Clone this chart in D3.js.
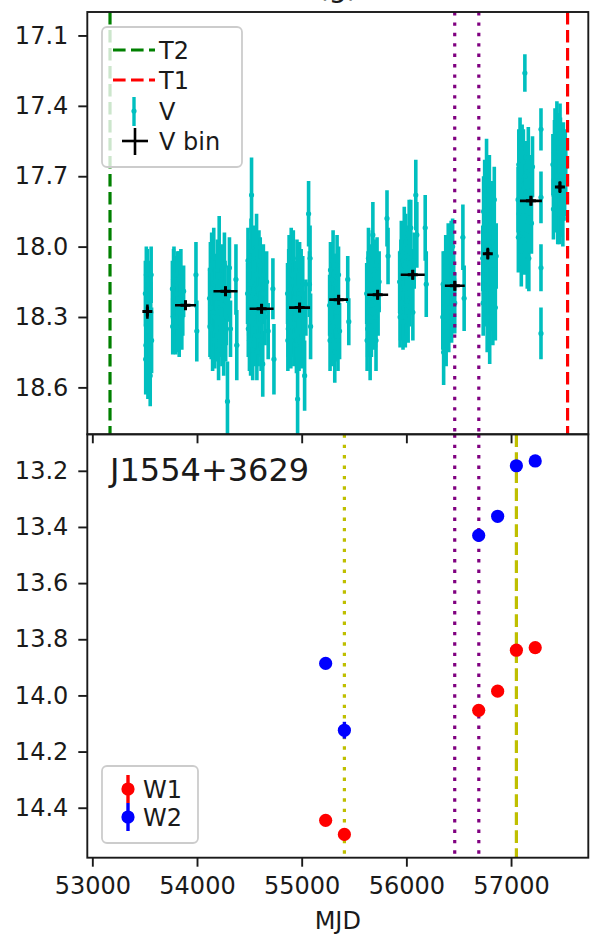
<!DOCTYPE html>
<meta charset="utf-8">
<head>
<script src="https://d3js.org/d3.v7.min.js"></script>
<style>
    body { margin: 0; background: #fff; }
    svg text { font-family: "DejaVu Sans", sans-serif; fill: #1a1a1a; }
</style>
</head>
<body>
<div class="viz"></div>
<script>
// ---- V band photometry, one array per observing season: [MJD, mag, err]
var vSeason1 = [[53507,18.20,0.14],[53510,18.48,0.15],[53512,18.42,0.14],[53516,18.12,0.12],[53520,18.30,0.13],[53526,18.14,0.13],
    [53531,18.50,0.15],[53536,18.25,0.13],[53542,18.36,0.13],[53548,18.18,0.12],[53553,18.55,0.13],[53558,18.28,0.13],
    [53562,18.12,0.12],[53566,18.40,0.14]];
var vSeason2 = [[53765,18.18,0.12],[53768,18.34,0.12],[53772,18.30,0.13],[53776,18.14,0.13],[53780,18.12,0.12],[53784,18.32,0.13],
    [53788,18.25,0.11],[53792,18.16,0.12],[53796,18.34,0.12],[53800,18.24,0.13],[53804,18.20,0.13],[53808,18.32,0.13],
    [53812,18.15,0.13],[53816,18.26,0.12],[53820,18.28,0.12],[53825,18.14,0.12],[53830,18.36,0.11],[53838,18.22,0.12],
    [53846,18.13,0.12],[53855,18.30,0.14],[53864,18.26,0.12],[53872,18.19,0.11],[53990,18.12,0.14],[53998,18.36,0.13]];
var vSeason3 = [[54120,18.22,0.13],[54124,18.34,0.13],[54128,18.10,0.12],[54132,18.26,0.14],[54136,18.35,0.13],[54140,18.08,0.14],
    [54145,18.18,0.14],[54149,18.40,0.13],[54153,18.28,0.12],[54157,18.16,0.13],[54160,18.05,0.13],[54165,18.30,0.13],
    [54170,18.40,0.12],[54175,18.22,0.14],[54180,18.15,0.12],[54185,18.36,0.13],[54190,18.30,0.13],[54195,18.10,0.13],
    [54200,18.22,0.11],[54206,18.44,0.13],[54212,18.00,0.13],[54217,18.26,0.14],[54222,18.33,0.14],[54227,18.14,0.13],
    [54232,18.12,0.13],[54238,18.38,0.13],[54245,18.25,0.12],[54255,18.42,0.13],[54262,18.08,0.14],[54268,18.18,0.12],
    [54274,18.36,0.13],[54280,18.30,0.12],[54291,18.66,0.17],[54300,18.20,0.12],[54310,18.09,0.13],[54320,18.35,0.12],
    [54372,18.14,0.15],[54380,18.42,0.15]];
var vSeason4 = [[54483,18.20,0.13],[54487,18.06,0.14],[54490,18.35,0.12],[54494,18.24,0.14],[54497,18.10,0.13],[54501,18.40,0.13],
    [54504,18.28,0.12],[54508,18.16,0.13],[54512,18.42,0.13],[54516,18.02,0.14],[54521,17.78,0.16],[54524,18.32,0.14],
    [54528,18.15,0.13],[54532,18.44,0.13],[54535,18.30,0.12],[54539,18.20,0.13],[54542,18.05,0.14],[54546,18.26,0.14],
    [54550,18.38,0.13],[54554,18.12,0.13],[54558,18.22,0.12],[54562,18.34,0.13],[54565,18.12,0.12],[54569,18.00,0.14],
    [54572,18.45,0.12],[54576,18.18,0.14],[54580,18.26,0.13],[54584,18.38,0.13],[54588,18.18,0.12],[54592,18.06,0.13],
    [54596,18.33,0.14],[54600,18.24,0.13],[54604,18.08,0.12],[54608,18.30,0.13],[54612,18.40,0.13],[54616,18.14,0.14],
    [54620,18.25,0.12],[54628,18.50,0.14],[54634,18.12,0.13],[54640,18.20,0.13],[54650,18.30,0.12],[54665,18.15,0.13],
    [54680,18.36,0.12],[54725,18.18,0.13],[54735,18.48,0.15]];
var vSeason5 = [[54865,18.20,0.13],[54868,18.40,0.13],[54872,18.35,0.12],[54876,18.14,0.13],[54880,18.08,0.13],[54884,18.30,0.14],
    [54888,18.28,0.12],[54892,18.18,0.13],[54896,18.40,0.12],[54900,18.06,0.14],[54904,18.15,0.13],[54908,18.34,0.13],
    [54912,18.25,0.12],[54916,18.12,0.13],[54920,18.05,0.12],[54925,18.38,0.13],[54930,18.33,0.13],[54935,18.22,0.13],
    [54940,18.18,0.12],[54945,18.30,0.14],[54950,18.42,0.12],[54955,18.10,0.13],[54961,18.65,0.18],[54965,18.26,0.14],
    [54970,18.22,0.13],[54975,18.40,0.13],[54980,18.10,0.12],[54985,18.20,0.13],[54990,18.30,0.12],[54995,18.14,0.13],
    [55000,18.38,0.14],[55005,18.24,0.13],[55010,18.16,0.12],[55018,18.32,0.13],[55028,18.55,0.15],[55040,18.26,0.12],
    [55066,17.86,0.14],[55074,18.16,0.14],[55080,18.05,0.14],[55085,18.34,0.14]];
var vSeason6 = [[55267,18.25,0.13],[55271,18.40,0.13],[55275,18.10,0.12],[55279,18.30,0.14],[55283,18.38,0.13],[55287,18.14,0.13],
    [55291,18.20,0.12],[55295,18.34,0.13],[55300,18.06,0.13],[55304,18.24,0.14],[55308,18.32,0.12],[55312,18.16,0.13],
    [55316,18.45,0.13],[55320,18.26,0.13],[55325,18.15,0.12],[55329,18.36,0.13],[55333,18.28,0.12],[55338,18.08,0.13],
    [55342,18.22,0.13],[55347,18.40,0.13],[55352,18.12,0.12],[55362,18.36,0.12],[55440,18.14,0.10],[55450,18.32,0.10]];
var vSeason7 = [[55621,18.20,0.13],[55625,18.40,0.13],[55630,18.35,0.12],[55634,18.16,0.14],[55638,18.05,0.13],[55642,18.30,0.13],
    [55646,18.28,0.12],[55650,18.12,0.13],[55654,18.44,0.13],[55658,18.22,0.13],[55662,18.14,0.12],[55666,18.34,0.13],
    [55670,18.25,0.12],[55675,18.06,0.13],[55680,17.95,0.14],[55685,18.20,0.13],[55690,18.32,0.12],[55695,18.10,0.13],
    [55700,18.18,0.12],[55705,18.30,0.13],[55710,18.40,0.13],[55720,18.08,0.12],[55730,18.26,0.12],[55740,18.15,0.13],
    [55815,17.88,0.12],[55825,18.04,0.12]];
var vSeason8 = [[55936,18.15,0.13],[55940,18.30,0.13],[55944,18.28,0.12],[55948,18.10,0.13],[55952,18.02,0.13],[55956,18.24,0.13],
    [55960,18.20,0.12],[55964,18.06,0.14],[55968,18.32,0.12],[55972,18.18,0.13],[55976,18.08,0.13],[55980,17.96,0.13],
    [55985,18.18,0.12],[55990,18.30,0.13],[55994,17.98,0.12],[55998,18.12,0.13],[56003,18.25,0.13],[56008,18.04,0.13],
    [56012,18.12,0.12],[56017,18.28,0.13],[56022,18.05,0.13],[56027,17.94,0.14],[56032,18.22,0.12],[56037,18.10,0.13],
    [56042,17.92,0.12],[56052,18.14,0.13],[56062,18.28,0.12],[56075,18.06,0.12],[56090,17.78,0.15],[56100,17.95,0.14],
    [56180,17.92,0.14],[56190,18.16,0.14]];
var vSeason9 = [[56348,18.30,0.14],[56352,18.16,0.14],[56356,18.45,0.14],[56360,18.26,0.13],[56364,18.15,0.13],[56368,18.36,0.13],
    [56372,18.25,0.12],[56376,18.08,0.13],[56380,18.38,0.13],[56384,18.20,0.13],[56388,18.10,0.12],[56392,18.30,0.13],
    [56396,18.20,0.12],[56400,18.04,0.14],[56405,18.32,0.13],[56410,18.14,0.13],[56414,18.05,0.12],[56419,18.26,0.13],
    [56423,18.18,0.12],[56428,18.02,0.13],[56432,18.28,0.13],[56442,18.00,0.12],[56452,18.14,0.12],[56462,18.24,0.13],
    [56540,17.96,0.14],[56552,18.22,0.14]];
var vSeason10 = [[56730,18.05,0.14],[56734,18.24,0.14],[56738,17.85,0.15],[56741,18.00,0.14],[56745,18.20,0.14],[56748,17.78,0.15],
    [56752,17.95,0.13],[56756,18.14,0.14],[56760,18.10,0.14],[56763,17.90,0.14],[56766,17.70,0.16],[56769,18.04,0.14],
    [56772,18.30,0.15],[56775,17.84,0.14],[56778,18.00,0.13],[56781,18.18,0.14],[56784,17.88,0.14],[56787,17.98,0.14],
    [56790,18.15,0.13],[56793,17.76,0.15],[56796,18.35,0.15],[56799,18.08,0.14],[56802,17.92,0.14],[56805,18.20,0.14],
    [56808,18.06,0.13],[56812,17.86,0.14],[56815,18.22,0.14],[56818,18.02,0.14],[56822,17.98,0.14],[56826,18.28,0.14],
    [56830,18.12,0.13],[56835,17.94,0.14],[56840,17.80,0.14],[56845,18.10,0.14],[56850,18.26,0.14],[56858,18.04,0.14]];
var vSeason11 = [[57067,17.80,0.14],[57070,17.96,0.15],[57074,17.65,0.15],[57078,17.86,0.14],[57082,17.92,0.14],[57086,17.58,0.13],
    [57090,17.72,0.13],[57094,17.88,0.14],[57098,18.02,0.15],[57102,17.78,0.14],[57106,17.60,0.12],[57110,17.94,0.14],
    [57114,17.85,0.13],[57118,17.64,0.14],[57122,17.75,0.14],[57126,17.98,0.14],[57132,17.26,0.08],[57137,17.70,0.14],
    [57142,17.95,0.14],[57146,17.80,0.14],[57150,17.68,0.13],[57155,18.04,0.14],[57160,17.82,0.14],[57165,17.62,0.13],
    [57170,18.05,0.14],[57175,17.88,0.14],[57180,17.74,0.13],[57195,17.90,0.13],[57205,17.66,0.13],
    [57286,17.50,0.09],[57286,17.79,0.11],[57286,18.09,0.10],[57286,18.37,0.11]];
var vSeason12 = [[57400,17.65,0.13],[57405,17.84,0.13],[57410,17.78,0.14],[57415,17.60,0.14],[57420,17.55,0.14],[57425,17.80,0.14],
    [57430,17.72,0.13],[57434,17.62,0.13],[57438,17.50,0.12],[57442,17.70,0.14],[57446,17.85,0.14],[57450,17.56,0.13],
    [57455,17.62,0.13],[57460,17.86,0.13],[57464,17.75,0.14],[57468,17.52,0.13],[57472,17.58,0.13],[57476,17.70,0.13],
    [57480,17.82,0.14],[57485,17.64,0.13],[57490,17.68,0.13],[57495,17.88,0.12],[57500,17.60,0.13],[57506,17.76,0.13],
    [57512,17.74,0.13],[57518,17.62,0.12],[57522,17.66,0.12]];

// ---- binned V
var vBinMjd  = [53526, 53890, 54272, 54617, 54980, 55353, 55726, 56061, 56463, 56778, 57190, 57467];
var vBinMag  = [18.277, 18.25, 18.19, 18.265, 18.26, 18.226, 18.205, 18.12, 18.167, 18.03, 17.805, 17.746];
var vBinXerr = [10, 100, 115, 115, 100, 90, 100, 115, 95, 25, 105, 25];
var vBinYerr = [0.03, 0.02, 0.02, 0.02, 0.02, 0.02, 0.02, 0.02, 0.02, 0.025, 0.02, 0.025];

// ---- WISE
var wMjd  = [55229, 55408, 56691, 56872, 57051, 57231];
var w1Mag = [14.445, 14.495, 14.053, 13.985, 13.839, 13.83];
var w1Err = [0.015, 0.015, 0.02, 0.015, 0.015, 0.015];
var w2Mag = [13.886, 14.124, 13.43, 13.362, 13.182, 13.165];
var w2Err = [0.02, 0.03, 0.02, 0.015, 0.015, 0.015];

// ---- vertical markers
var t2Mjd = 53169, t1Mjd = 57540;
var purpleMjd = [56462, 56692];
var yellowDotMjd = 55408, yellowDashMjd = 57051;

var xTicks = [53000, 54000, 55000, 56000, 57000];
var topYTicks = [17.1, 17.4, 17.7, 18.0, 18.3, 18.6];
var botYTicks = [13.2, 13.4, 13.6, 13.8, 14.0, 14.2, 14.4];

var width = 590, height = 936;
var left = 87.3, right = 588.3, top1 = 12, mid = 434.3, bot = 857.7;

var x = d3.scaleLinear().domain([52952, 57738]).range([left, right]);
var y1 = d3.scaleLinear().domain([17.0, 18.8]).range([top1, mid]);
var y2 = d3.scaleLinear().domain([13.07, 14.578]).range([mid, bot]);

var svg = d3.select("div.viz").append("svg")
    .attr("width", width)
    .attr("height", height);

svg.append("clipPath").attr("id", "clipTop").append("rect")
    .attr("x", left).attr("y", top1).attr("width", right - left).attr("height", mid - top1);
svg.append("clipPath").attr("id", "clipBot").append("rect")
    .attr("x", left).attr("y", mid).attr("width", right - left).attr("height", bot - mid);

// ================= top panel
var gTop = svg.append("g").attr("clip-path", "url(#clipTop)");
var vAll = [].concat(vSeason1, vSeason2, vSeason3, vSeason4, vSeason5, vSeason6,
    vSeason7, vSeason8, vSeason9, vSeason10, vSeason11, vSeason12);

gTop.selectAll("line.verr").data(vAll).enter().append("line")
    .attr("x1", function(d) { return x(d[0]); })
    .attr("x2", function(d) { return x(d[0]); })
    .attr("y1", function(d) { return y1(d[1] - d[2]); })
    .attr("y2", function(d) { return y1(d[1] + d[2]); })
    .style("stroke", "#00bfbf").style("stroke-width", 3.6);
gTop.selectAll("circle.v").data(vAll).enter().append("circle")
    .attr("cx", function(d) { return x(d[0]); })
    .attr("cy", function(d) { return y1(d[1]); })
    .attr("r", 2.6).style("fill", "#00bfbf");

function vline(g, mjd, y0, y1_, color, dash) {
    g.append("line")
        .attr("x1", x(mjd)).attr("x2", x(mjd))
        .attr("y1", y0).attr("y2", y1_)
        .style("stroke", color).style("stroke-width", 3.2)
        .style("stroke-dasharray", dash);
}
var dashed = "12.6,5.4", dotted = "3.4,7";
vline(gTop, t2Mjd, top1, mid, "#008000", dashed);
vline(gTop, t1Mjd, top1, mid, "#ff0000", dashed);
purpleMjd.forEach(function(m) { vline(gTop, m, top1, mid, "#800080", dotted); });

// binned points
var bins = vBinMjd.map(function(m, i) { return [m, vBinMag[i], vBinXerr[i], vBinYerr[i]]; });
var gBin = gTop.append("g").style("stroke", "#000").style("stroke-width", 2.6);
bins.forEach(function(b) {
    gBin.append("line").attr("x1", x(b[0] - b[2])).attr("x2", x(b[0] + b[2]))
        .attr("y1", y1(b[1])).attr("y2", y1(b[1]));
    gBin.append("line").attr("x1", x(b[0])).attr("x2", x(b[0]))
        .attr("y1", y1(b[1] - b[3])).attr("y2", y1(b[1] + b[3]));
    gBin.append("line").attr("x1", x(b[0]) - 5).attr("x2", x(b[0]) + 5)
        .attr("y1", y1(b[1])).attr("y2", y1(b[1])).style("stroke-width", 3);
    gBin.append("line").attr("x1", x(b[0])).attr("x2", x(b[0]))
        .attr("y1", y1(b[1]) - 5).attr("y2", y1(b[1]) + 5).style("stroke-width", 3);
});

// ================= bottom panel
var gBot = svg.append("g").attr("clip-path", "url(#clipBot)");
vline(gBot, yellowDotMjd, mid, bot, "#bfbf00", dotted);
purpleMjd.forEach(function(m) { vline(gBot, m, mid, bot, "#800080", dotted); });
vline(gBot, yellowDashMjd, mid, bot, "#bfbf00", dashed);

function wise(mags, errs, color) {
    var data = wMjd.map(function(m, i) { return [m, mags[i], errs[i]]; });
    gBot.selectAll(null).data(data).enter().append("line")
        .attr("x1", function(d) { return x(d[0]); })
        .attr("x2", function(d) { return x(d[0]); })
        .attr("y1", function(d) { return y2(d[1] - d[2]); })
        .attr("y2", function(d) { return y2(d[1] + d[2]); })
        .style("stroke", color).style("stroke-width", 3.4);
    gBot.selectAll(null).data(data).enter().append("circle")
        .attr("cx", function(d) { return x(d[0]); })
        .attr("cy", function(d) { return y2(d[1]); })
        .attr("r", 6.6).style("fill", color);
}
wise(w1Mag, w1Err, "#ff0000");
wise(w2Mag, w2Err, "#0000ff");

svg.append("text").attr("x", 110).attr("y", 481)
    .style("font-size", "32px").text("J1554+3629");

// ================= axes
function styleAxis(g, labels) {
    g.select(".domain").remove();
    g.selectAll(".tick line").style("stroke", "#1a1a1a").style("stroke-width", 1.9);
    g.selectAll(".tick text").style("font-size", "24px").style("font-family", "DejaVu Sans")
        .style("fill", "#1a1a1a").style("display", labels ? null : "none");
}
var f1 = d3.format(".1f");
svg.append("g").attr("transform", "translate(" + left + ",0)")
    .call(d3.axisLeft(y1).tickValues(topYTicks).tickFormat(f1).tickSize(9).tickPadding(10))
    .call(styleAxis, true);
svg.append("g").attr("transform", "translate(" + left + ",0)")
    .call(d3.axisLeft(y2).tickValues(botYTicks).tickFormat(f1).tickSize(9).tickPadding(10))
    .call(styleAxis, true);
svg.append("g").attr("transform", "translate(0," + mid + ")")
    .call(d3.axisBottom(x).tickValues(xTicks).tickSize(9))
    .call(styleAxis, false);
svg.append("g").attr("transform", "translate(0," + bot + ")")
    .call(d3.axisBottom(x).tickValues(xTicks).tickFormat(d3.format("d")).tickSize(9).tickPadding(10))
    .call(styleAxis, true);

// spines
[[top1, mid], [mid, bot]].forEach(function(p) {
    svg.append("rect").attr("x", left).attr("y", p[0])
        .attr("width", right - left).attr("height", p[1] - p[0])
        .style("fill", "none").style("stroke", "#1a1a1a").style("stroke-width", 1.9);
});

svg.append("text").attr("x", (left + right) / 2).attr("y", 929)
    .attr("text-anchor", "middle").style("font-size", "24px").text("MJD");
// title sits above the crop, only its lower edge shows (as in the reference)
svg.append("text").attr("x", (left + right) / 2).attr("y", -3)
    .attr("text-anchor", "middle").style("font-size", "29px").text("(g)");

// ================= legends
function legendBox(x0, y0, w, h) {
    svg.append("rect").attr("x", x0).attr("y", y0).attr("width", w).attr("height", h)
        .attr("rx", 5).style("fill", "#fff").style("fill-opacity", 0.8)
        .style("stroke", "#cccccc").style("stroke-width", 1.8);
}
legendBox(102, 27, 140, 140);
var legTop = [["T2", 50], ["T1", 80], ["V", 111], ["V bin", 141]];
svg.append("line").attr("x1", 113).attr("x2", 155).attr("y1", 50).attr("y2", 50)
    .style("stroke", "#008000").style("stroke-width", 3.2).style("stroke-dasharray", dashed);
svg.append("line").attr("x1", 113).attr("x2", 155).attr("y1", 80).attr("y2", 80)
    .style("stroke", "#ff0000").style("stroke-width", 3.2).style("stroke-dasharray", dashed);
svg.append("line").attr("x1", 134).attr("x2", 134).attr("y1", 97).attr("y2", 126)
    .style("stroke", "#00bfbf").style("stroke-width", 3.4);
svg.append("circle").attr("cx", 134).attr("cy", 111).attr("r", 2.6).style("fill", "#00bfbf");
svg.append("line").attr("x1", 122).attr("x2", 148).attr("y1", 141).attr("y2", 141)
    .style("stroke", "#000").style("stroke-width", 2.6);
svg.append("line").attr("x1", 135).attr("x2", 135).attr("y1", 128).attr("y2", 155)
    .style("stroke", "#000").style("stroke-width", 2.6);
legTop.forEach(function(l) {
    svg.append("text").attr("x", 159).attr("y", l[1]).attr("dy", "0.36em")
        .style("font-size", "24px").text(l[0]);
});

legendBox(102, 766, 96, 77);
[["W1", 789, "#ff0000", 775, 803], ["W2", 817, "#0000ff", 803, 831]].forEach(function(l) {
    svg.append("line").attr("x1", 128).attr("x2", 128).attr("y1", l[3]).attr("y2", l[4])
        .style("stroke", l[2]).style("stroke-width", 3.4);
    svg.append("circle").attr("cx", 128).attr("cy", l[1]).attr("r", 6.6).style("fill", l[2]);
    svg.append("text").attr("x", 143).attr("y", l[1]).attr("dy", "0.36em")
        .style("font-size", "24px").text(l[0]);
});
</script>
</body>
